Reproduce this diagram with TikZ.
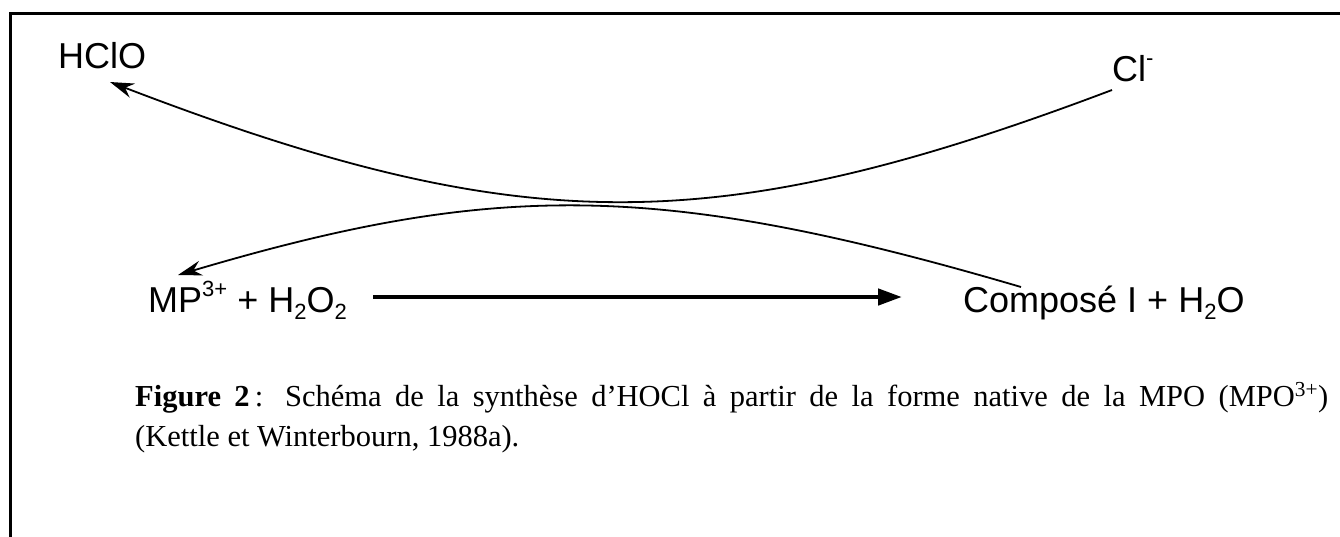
\documentclass[tikz,border=0pt]{standalone}
\usepackage{fontspec}
\setmainfont{Liberation Serif}
\newfontfamily\arialf{Liberation Sans}
\usetikzlibrary{arrows.meta}
\newcommand{\chsup}[1]{\raisebox{0.42em}{\fontsize{22}{24}\selectfont #1}}
\newcommand{\chsub}[1]{\raisebox{-0.22em}{\fontsize{22}{24}\selectfont #1}}
\tikzset{
  chem/.style={font=\arialf\fontsize{36}{40}\selectfont, anchor=base west, inner sep=0pt},
  capt/.style={font=\fontsize{30.5}{36}\selectfont, anchor=base west, inner sep=0pt},
  curvearr/.style={line width=1.8pt, -{Stealth[length=24pt,width=15pt,inset=8pt]}},
  mainarr/.style={line width=4.5pt, -{Triangle[length=24pt,width=16pt]}},
  frame/.style={line width=3.5pt}
}
\begin{document}
\begin{tikzpicture}[x=1pt,y=-1pt]
\useasboundingbox (0,0) rectangle (1340,536);
\clip (0,0) rectangle (1340,536);
\fill[white] (0,0) rectangle (1340,536);
% frame
\draw[frame] (10.5,545) -- (10.5,13.5) -- (1350,13.5);
% labels
\node[chem] (hclo) at (58,68) {HClO};
\node[chem] (cl) at (1112,81) {Cl\chsup{-}};
\node[chem] (mp) at (148,312) {MP\chsup{3+} + H\chsub{2}O\chsub{2}};
\node[chem] (comp) at (963,312) {Composé I + H\chsub{2}O};
% connector ends
\coordinate (clend) at (1112,90);
\coordinate (hclotip) at (110,82);
\coordinate (compend) at (1021,287);
\coordinate (mptip) at (178,275);
\coordinate (mpend) at (373,297);
\coordinate (comptip) at (902,297);
% curves
\draw[curvearr] (clend) .. controls (715,240) and (522,240) .. (hclotip);
\draw[curvearr] (compend) .. controls (660,181) and (495,181) .. (mptip);
\draw[mainarr] (mpend) -- (comptip);
% caption
\node[capt] (cap1) at (135,406) {\makebox[1193pt][s]{\textbf{Figure 2}\,: Schéma de la synthèse d’HOCl à partir de la forme native de la MPO (MPO\textsuperscript{3+})}};
\node[capt] (cap2) at (135,446) {(Kettle et Winterbourn, 1988a).};
\end{tikzpicture}
\end{document}
